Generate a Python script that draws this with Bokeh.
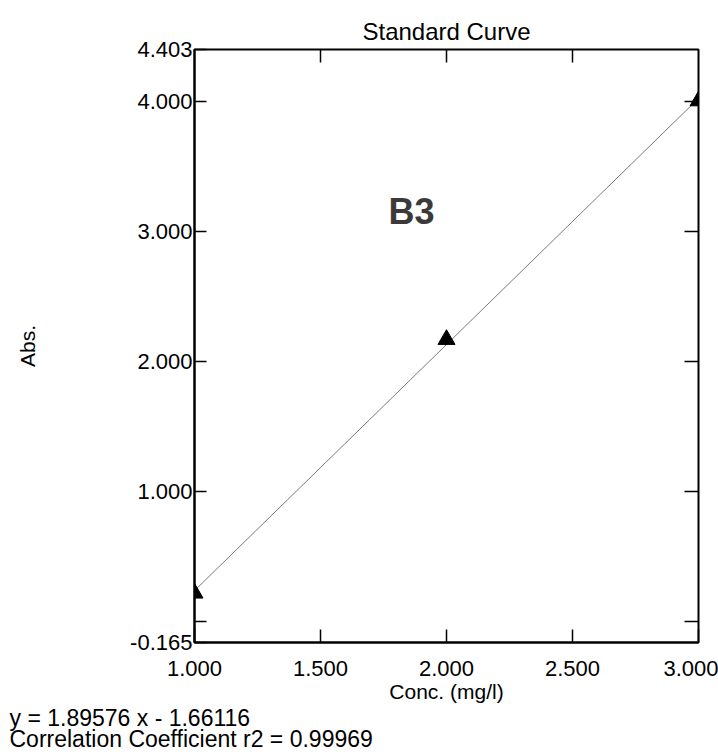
from bokeh.plotting import figure
from bokeh.models import FixedTicker, LinearAxis, Label, Range1d, ColumnDataSource, Title
from bokeh.embed import file_html
from bokeh.resources import INLINE

# ---- data ----
conc = [1.0, 2.0, 3.0]
absorbance = [0.215, 2.169, 4.007]
slope = 1.89576
intercept = -1.66116
r2 = 0.99969

x_ticks = [1.0, 1.5, 2.0, 2.5, 3.0]
x_tick_labels = ["1.000", "1.500", "2.000", "2.500", "3.000"]
y_ticks = [-0.165, 1.0, 2.0, 3.0, 4.0, 4.403]
y_tick_labels = ["-0.165", "1.000", "2.000", "3.000", "4.000", "4.403"]
y_unlabeled_ticks = [0.0]
top_ticks = [1.5, 2.0, 2.5]
right_ticks = [0.0, 1.0, 2.0, 3.0, 4.0]

FONT = "Liberation Sans"

fit_x = [min(conc), max(conc)]
fit_y = [slope * v + intercept for v in fit_x]

p = figure(frame_width=504, frame_height=593,
           x_range=Range1d(1.0, 3.0), y_range=Range1d(-0.165, 4.403),
           output_backend="svg", toolbar_location=None,
           min_border_left=194, min_border_right=20,
           min_border_top=49, min_border_bottom=112,
           title="Standard Curve")
p.grid.visible = False
p.background_fill_color = "white"
p.border_fill_color = "white"
p.outline_line_color = "black"
p.outline_line_width = 2

p.title.text_font = FONT
p.title.text_font_size = "24px"
p.title.text_font_style = "normal"
p.title.align = "center"
p.title.text_color = "black"

xa = p.xaxis[0]
xa.ticker = FixedTicker(ticks=x_ticks)
xa.major_label_overrides = dict(zip(x_ticks, x_tick_labels))
xa.major_tick_in = 13
xa.major_tick_out = 0
xa.minor_tick_in = 0
xa.minor_tick_out = 0
xa.axis_line_width = 2
xa.axis_line_color = "black"
xa.major_tick_line_width = 1.5
xa.major_label_text_font = FONT
xa.major_label_text_font_size = "22px"
xa.major_label_text_color = "black"
xa.major_label_standoff = 18
xa.axis_label = "Conc. (mg/l)"
xa.axis_label_text_font = FONT
xa.axis_label_text_font_size = "21px"
xa.axis_label_text_font_style = "normal"
xa.axis_label_text_color = "black"
xa.axis_label_standoff = 1

ya = p.yaxis[0]
ya.ticker = FixedTicker(ticks=y_ticks, minor_ticks=y_unlabeled_ticks)
ya.major_label_overrides = dict(zip(y_ticks, y_tick_labels))
ya.major_tick_in = 12
ya.major_tick_out = 0
ya.minor_tick_in = 12
ya.minor_tick_out = 0
ya.axis_line_width = 2
ya.axis_line_color = "black"
ya.major_tick_line_width = 1.5
ya.minor_tick_line_width = 1.5
ya.minor_tick_line_color = "black"
ya.major_label_text_font = FONT
ya.major_label_text_font_size = "22px"
ya.major_label_text_color = "black"
ya.major_label_standoff = 2
ya.axis_label = "Abs."
ya.axis_label_text_font = FONT
ya.axis_label_text_font_size = "21px"
ya.axis_label_text_font_style = "normal"
ya.axis_label_text_color = "black"
ya.axis_label_standoff = 88

top = LinearAxis(ticker=FixedTicker(ticks=[], minor_ticks=top_ticks),
                 minor_tick_in=13, minor_tick_out=0, major_tick_in=0, major_tick_out=0,
                 axis_line_color=None, minor_tick_line_width=1.5,
                 minor_tick_line_color="black", major_label_standoff=0)
p.add_layout(top, "above")
right = LinearAxis(ticker=FixedTicker(ticks=[], minor_ticks=right_ticks),
                   minor_tick_in=14, minor_tick_out=0, major_tick_in=0, major_tick_out=0,
                   axis_line_color=None, minor_tick_line_width=1.5,
                   minor_tick_line_color="black", major_label_standoff=0)
p.add_layout(right, "right")

p.line(fit_x, fit_y, line_color="#7a7a7a", line_width=1)
p.scatter(x="x", y="y", source=ColumnDataSource(dict(x=conc, y=absorbance)),
          marker="triangle", size=17, fill_color="black", line_color="black")

p.add_layout(Label(x=1.861, y=3.155, text="B3", text_font=FONT, text_font_size="36px",
                   text_font_style="bold", text_color="#3a3a3a",
                   text_align="center", text_baseline="middle"))

eq_text = f"y = {slope} x - {abs(intercept)}\nCorrelation Coefficient r2 = {r2}"
eq = Title(text=eq_text, align="left", vertical_align="bottom", offset=-185,
           standoff=-5, text_font=FONT, text_font_size="23px", text_font_style="normal",
           text_color="black", text_line_height=0.8)
p.add_layout(eq, "below")

open("out.html", "w").write(file_html(p, INLINE))
